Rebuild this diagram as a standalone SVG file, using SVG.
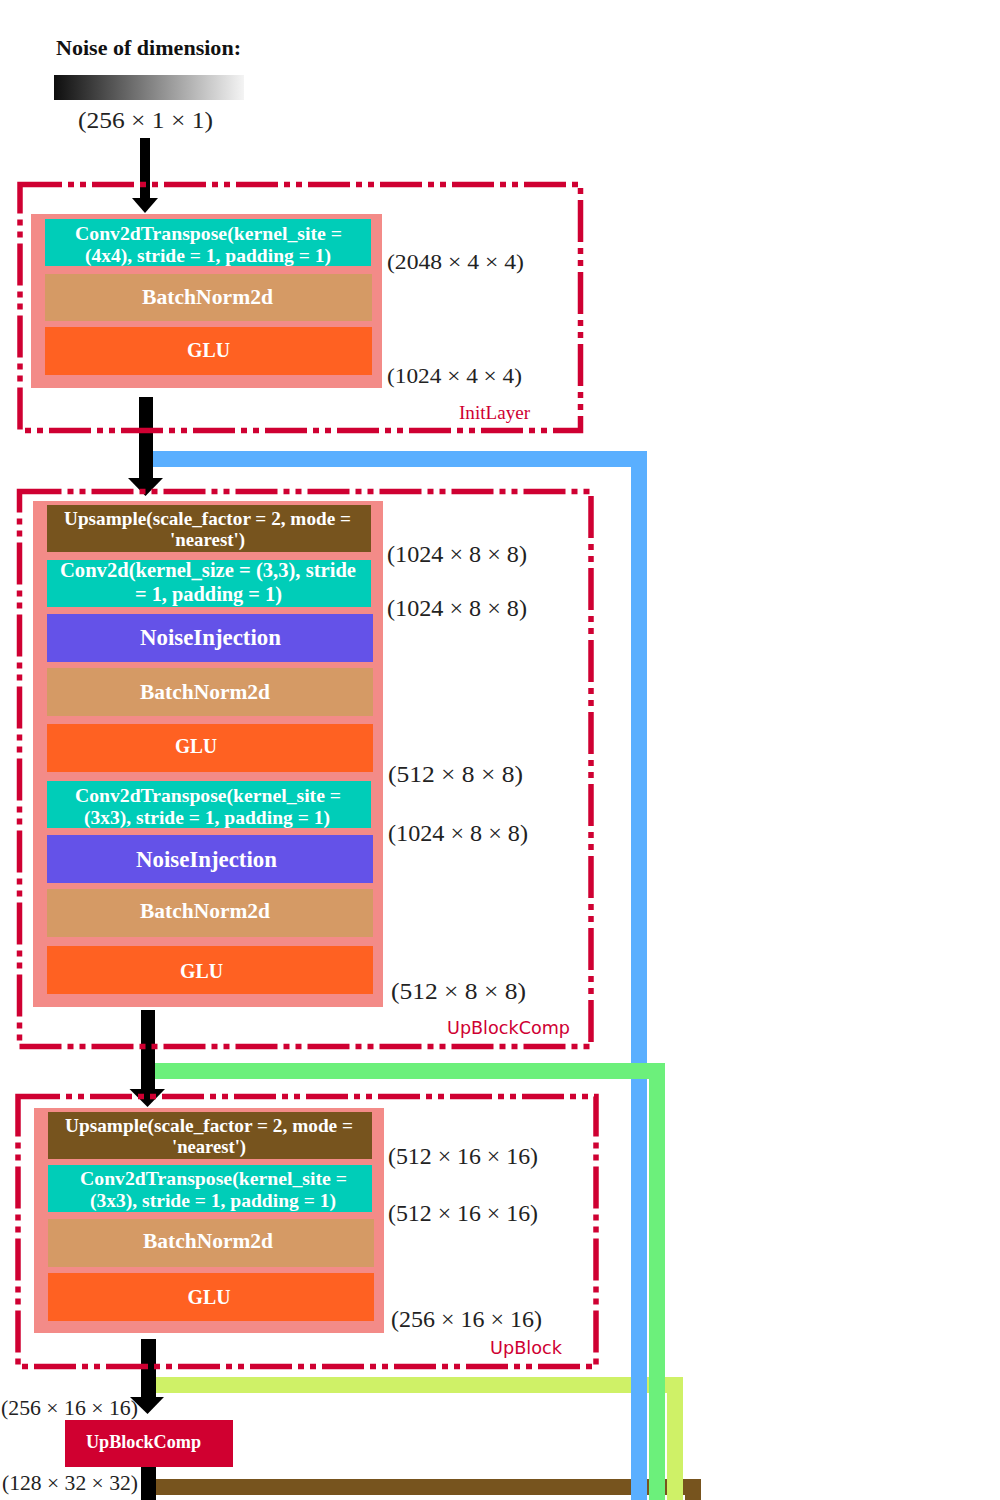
<svg xmlns="http://www.w3.org/2000/svg" width="1000" height="1500" viewBox="0 0 1000 1500">
  <defs>
    <linearGradient id="noiseGrad" x1="0" y1="0" x2="1" y2="0">
      <stop offset="0" stop-color="#0e0e0e"/>
      <stop offset="1" stop-color="#f4f4f4"/>
    </linearGradient>
    <style>
      .frame { fill: none; stroke: #CF0032; stroke-width: 5.5; stroke-dasharray: 42 6 6 6 6 6; }
      .panel { fill: #F38B88; }
      .conv { fill: #00CDB8; }
      .bn { fill: #D59A65; }
      .glu { fill: #FF6122; }
      .noise { fill: #6452E8; }
      .up { fill: #77541E; }
      .lbl { font-family: "Liberation Serif", "Times New Roman", serif; font-weight: bold; fill: #ffffff; dominant-baseline: central; }
      .dim { font-family: "Liberation Serif", "Times New Roman", serif; fill: #222222; dominant-baseline: central; }
      .tag { font-family: "DejaVu Sans", "Liberation Sans", sans-serif; fill: #CF0032; font-size: 17.6px; dominant-baseline: central; }
      .tagserif { font-family: "Liberation Serif", "Times New Roman", serif; fill: #CF0032; font-size: 19px; dominant-baseline: central; }
      .link { fill: none; stroke-width: 16; stroke-linejoin: miter; stroke-linecap: butt; }
      .arrow { fill: #000000; }
    </style>
  </defs>
  <rect width="1000" height="1500" fill="#ffffff"/>

  <!-- noise input -->
  <g id="noise-input">
    <text x="56" y="47" font-family="Liberation Serif, Times New Roman, serif" font-weight="bold" font-size="22" fill="#111" dominant-baseline="central" textLength="185" lengthAdjust="spacingAndGlyphs">Noise of dimension:</text>
    <rect x="54" y="75" width="190" height="25" fill="url(#noiseGrad)"/>
    <text class="dim" x="78" y="120" font-size="24" textLength="135" lengthAdjust="spacingAndGlyphs">(256 × 1 × 1)</text>
  </g>

  <!-- skip connections and flow arrows -->
  <g id="connectors">
    <polyline class="link" stroke="#77541E" points="148,1487 693,1487 693,1500"/>
    <polyline class="link" stroke="#CFF167" points="148,1385 675,1385 675,1500"/>
    <polyline class="link" stroke="#5AAFFF" points="146,459 639,459 639,1500"/>
    <polyline class="link" stroke="#6CF07B" points="148,1071 657,1071 657,1500"/>

    <g class="arrow">
      <rect x="140" y="138" width="10" height="61"/>
      <polygon points="132,198 158,198 145,213"/>
      <rect x="139" y="397" width="14" height="82"/>
      <polygon points="128,478 163,478 145.5,496"/>
      <rect x="141" y="1010" width="14" height="80"/>
      <polygon points="129.5,1089 165,1089 147.5,1107"/>
      <rect x="141" y="1339" width="15" height="59"/>
      <polygon points="130,1397 164,1397 147.5,1414"/>
      <rect x="141" y="1466" width="15" height="34"/>
    </g>
  </g>

  <!-- InitLayer -->
  <g id="init-layer">
    <rect class="frame" x="20" y="184.5" width="560.5" height="246"/>
    <rect class="panel" x="31" y="214" width="351" height="174"/>
    <rect class="conv" x="45" y="219" width="326" height="47"/>
    <rect class="bn" x="45" y="274" width="327" height="47"/>
    <rect class="glu" x="45" y="327" width="327" height="48"/>
    <text class="lbl" x="75" y="233" font-size="19.5" textLength="267" lengthAdjust="spacingAndGlyphs">Conv2dTranspose(kernel_site =</text>
    <text class="lbl" x="85" y="255" font-size="19.5" textLength="246" lengthAdjust="spacingAndGlyphs">(4x4), stride = 1, padding = 1)</text>
    <text class="lbl" x="142" y="297" font-size="21.5" textLength="131" lengthAdjust="spacingAndGlyphs">BatchNorm2d</text>
    <text class="lbl" x="187" y="350" font-size="20" textLength="43" lengthAdjust="spacingAndGlyphs">GLU</text>
    <text class="dim" x="387" y="261" font-size="22" textLength="137" lengthAdjust="spacingAndGlyphs">(2048 × 4 × 4)</text>
    <text class="dim" x="387" y="375" font-size="22" textLength="135" lengthAdjust="spacingAndGlyphs">(1024 × 4 × 4)</text>
    <text class="tagserif" x="459" y="412" textLength="71" lengthAdjust="spacingAndGlyphs">InitLayer</text>
  </g>

  <!-- UpBlockComp -->
  <g id="up-block-comp">
    <rect class="frame" x="19.5" y="491.5" width="571.5" height="555"/>
    <rect class="panel" x="33" y="501" width="350" height="506"/>
    <rect class="up" x="47" y="505" width="324" height="47"/>
    <rect class="conv" x="47" y="560" width="324" height="47"/>
    <rect class="noise" x="47" y="614" width="326" height="48"/>
    <rect class="bn" x="47" y="668" width="326" height="48"/>
    <rect class="glu" x="47" y="724" width="326" height="48"/>
    <rect class="conv" x="47" y="781" width="324" height="47"/>
    <rect class="noise" x="47" y="835" width="326" height="48"/>
    <rect class="bn" x="47" y="889" width="326" height="48"/>
    <rect class="glu" x="47" y="946" width="326" height="48"/>
    <text class="lbl" x="64" y="518" font-size="19" textLength="287" lengthAdjust="spacingAndGlyphs">Upsample(scale_factor = 2, mode =</text>
    <text class="lbl" x="170" y="539" font-size="19" textLength="75" lengthAdjust="spacingAndGlyphs">'nearest')</text>
    <text class="lbl" x="60" y="570" font-size="20.5" textLength="296" lengthAdjust="spacingAndGlyphs">Conv2d(kernel_size = (3,3), stride</text>
    <text class="lbl" x="135" y="594" font-size="20.5" textLength="147" lengthAdjust="spacingAndGlyphs">= 1, padding = 1)</text>
    <text class="lbl" x="140" y="637" font-size="22.5" textLength="141" lengthAdjust="spacingAndGlyphs">NoiseInjection</text>
    <text class="lbl" x="140" y="692" font-size="21.5" textLength="130" lengthAdjust="spacingAndGlyphs">BatchNorm2d</text>
    <text class="lbl" x="175" y="746" font-size="20" textLength="42" lengthAdjust="spacingAndGlyphs">GLU</text>
    <text class="lbl" x="75" y="795" font-size="19.5" textLength="266" lengthAdjust="spacingAndGlyphs">Conv2dTranspose(kernel_site =</text>
    <text class="lbl" x="84" y="817" font-size="19.5" textLength="246" lengthAdjust="spacingAndGlyphs">(3x3), stride = 1, padding = 1)</text>
    <text class="lbl" x="136" y="859" font-size="22.5" textLength="141" lengthAdjust="spacingAndGlyphs">NoiseInjection</text>
    <text class="lbl" x="140" y="911" font-size="21.5" textLength="130" lengthAdjust="spacingAndGlyphs">BatchNorm2d</text>
    <text class="lbl" x="180" y="971" font-size="20" textLength="43" lengthAdjust="spacingAndGlyphs">GLU</text>
    <text class="dim" x="387" y="554.5" font-size="22.5" textLength="140" lengthAdjust="spacingAndGlyphs">(1024 × 8 × 8)</text>
    <text class="dim" x="387" y="608.5" font-size="22.5" textLength="140" lengthAdjust="spacingAndGlyphs">(1024 × 8 × 8)</text>
    <text class="dim" x="388" y="774.5" font-size="22.5" textLength="135" lengthAdjust="spacingAndGlyphs">(512 × 8 × 8)</text>
    <text class="dim" x="388" y="833.5" font-size="22.5" textLength="140" lengthAdjust="spacingAndGlyphs">(1024 × 8 × 8)</text>
    <text class="dim" x="391" y="991" font-size="22.5" textLength="135" lengthAdjust="spacingAndGlyphs">(512 × 8 × 8)</text>
    <text class="tag" x="447" y="1028" textLength="123" lengthAdjust="spacingAndGlyphs">UpBlockComp</text>
  </g>

  <!-- UpBlock -->
  <g id="up-block">
    <rect class="frame" x="18" y="1096.5" width="578" height="270"/>
    <rect class="panel" x="34" y="1108" width="350" height="225"/>
    <rect class="up" x="48" y="1112" width="324" height="47"/>
    <rect class="conv" x="48" y="1165" width="324" height="47"/>
    <rect class="bn" x="48" y="1219" width="326" height="48"/>
    <rect class="glu" x="48" y="1273" width="326" height="48"/>
    <text class="lbl" x="65" y="1125" font-size="19" textLength="288" lengthAdjust="spacingAndGlyphs">Upsample(scale_factor = 2, mode =</text>
    <text class="lbl" x="172" y="1146" font-size="19" textLength="74" lengthAdjust="spacingAndGlyphs">'nearest')</text>
    <text class="lbl" x="80" y="1178" font-size="19.5" textLength="267" lengthAdjust="spacingAndGlyphs">Conv2dTranspose(kernel_site =</text>
    <text class="lbl" x="90" y="1200" font-size="19.5" textLength="246" lengthAdjust="spacingAndGlyphs">(3x3), stride = 1, padding = 1)</text>
    <text class="lbl" x="143" y="1241" font-size="21.5" textLength="130" lengthAdjust="spacingAndGlyphs">BatchNorm2d</text>
    <text class="lbl" x="187.5" y="1297" font-size="20" textLength="43" lengthAdjust="spacingAndGlyphs">GLU</text>
    <text class="dim" x="388" y="1156" font-size="22.5" textLength="150" lengthAdjust="spacingAndGlyphs">(512 × 16 × 16)</text>
    <text class="dim" x="388" y="1213" font-size="22.5" textLength="150" lengthAdjust="spacingAndGlyphs">(512 × 16 × 16)</text>
    <text class="dim" x="391" y="1319.5" font-size="22.5" textLength="151" lengthAdjust="spacingAndGlyphs">(256 × 16 × 16)</text>
    <text class="tag" x="490" y="1348" textLength="72" lengthAdjust="spacingAndGlyphs">UpBlock</text>
  </g>

  <!-- trailing UpBlockComp -->
  <g id="up-block-comp-2">
    <rect x="65" y="1420" width="168" height="47" fill="#D00030"/>
    <text class="lbl" x="86" y="1442" font-size="18" textLength="115" lengthAdjust="spacingAndGlyphs">UpBlockComp</text>
    <text class="dim" x="1" y="1408" font-size="20.5" textLength="137" lengthAdjust="spacingAndGlyphs">(256 × 16 × 16)</text>
    <text class="dim" x="2" y="1483" font-size="20.5" textLength="136" lengthAdjust="spacingAndGlyphs">(128 × 32 × 32)</text>
  </g>
</svg>
